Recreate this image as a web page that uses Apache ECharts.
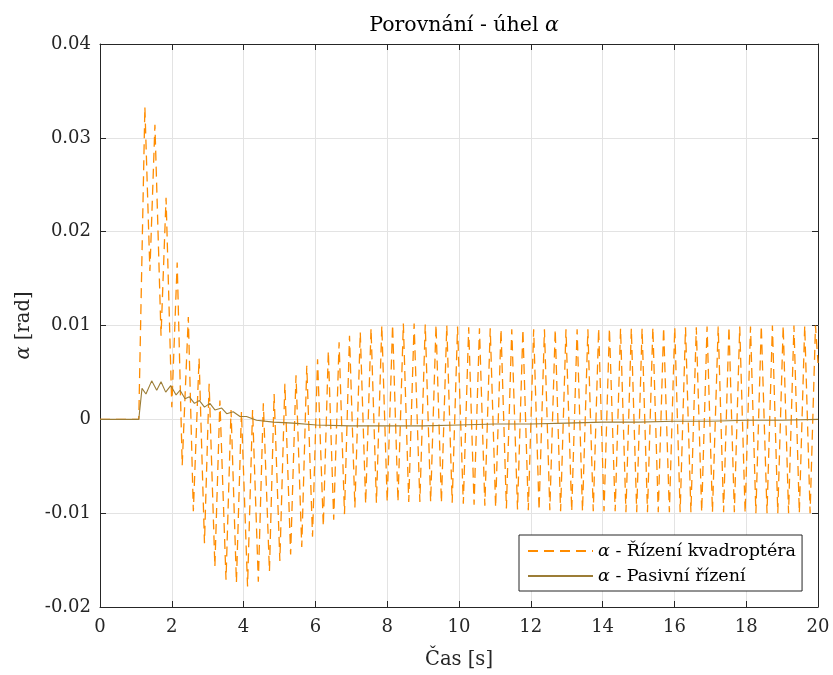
<!DOCTYPE html>
<html>
<head>
<meta charset="utf-8">
<script src="https://cdn.jsdelivr.net/npm/echarts@6/dist/echarts.min.js"></script>
<style>
html,body{margin:0;padding:0;background:#fff;}
#c{width:833px;height:675px;}
</style>
</head>
<body>
<div id="c"></div>
<script>
// ---- data ----
const seriesNames = ['Řízení kvadroptéra', 'Pasivní řízení'];

const quadT = [0, 1.08, 1.25, 1.39, 1.53, 1.70, 1.84, 2.00, 2.15, 2.29, 2.46, 2.60, 2.76, 2.91, 3.04, 3.20, 3.34, 3.51, 3.65, 3.80,
  3.94, 4.11, 4.25, 4.41, 4.55, 4.72, 4.85, 5.01, 5.15, 5.31, 5.46, 5.62, 5.76, 5.92, 6.06, 6.22, 6.36, 6.51, 6.66, 6.81,
  6.95, 7.10, 7.25, 7.40, 7.55, 7.70, 7.85, 8.00, 8.15, 8.30, 8.45, 8.60, 8.75, 8.91, 9.06, 9.21, 9.36, 9.51, 9.66, 9.81,
  9.96, 10.12, 10.27, 10.42, 10.57, 10.72, 10.87, 11.02, 11.17, 11.32, 11.47, 11.63, 11.78, 11.93, 12.08, 12.23, 12.38, 12.53, 12.68, 12.83,
  12.98, 13.14, 13.29, 13.44, 13.59, 13.74, 13.89, 14.04, 14.19, 14.35, 14.50, 14.65, 14.80, 14.95, 15.10, 15.25, 15.40, 15.55, 15.70, 15.86,
  16.01, 16.16, 16.31, 16.46, 16.61, 16.76, 16.91, 17.06, 17.22, 17.37, 17.52, 17.67, 17.82, 17.97, 18.12, 18.27, 18.42, 18.58, 18.73, 18.88,
  19.03, 19.18, 19.33, 19.48, 19.63, 19.78, 19.93, 20.00];
const quadV = [0, 0, 0.0333, 0.0158, 0.0314, 0.0089, 0.0236, 0.0013, 0.0167, -0.0049, 0.0109, -0.0098, 0.0065, -0.0132, 0.0038, -0.0157, 0.0020, -0.0171, 0.0010, -0.0174,
  0.0008, -0.0178, 0.0010, -0.0173, 0.0017, -0.0162, 0.0027, -0.0151, 0.0038, -0.0144, 0.0047, -0.0136, 0.0057, -0.0125, 0.0064, -0.0114, 0.0073, -0.0107, 0.0082, -0.0101,
  0.0089, -0.0094, 0.0093, -0.0090, 0.0097, -0.0089, 0.0100, -0.0088, 0.0101, -0.0088, 0.0102, -0.0088, 0.0102, -0.0088, 0.0101, -0.0088, 0.0101, -0.0089, 0.0100, -0.0089,
  0.0099, -0.0090, 0.0098, -0.0091, 0.0097, -0.0092, 0.0097, -0.0094, 0.0096, -0.0095, 0.0096, -0.0096, 0.0096, -0.0097, 0.0096, -0.0097, 0.0096, -0.0097, 0.0096, -0.0098,
  0.0096, -0.0098, 0.0096, -0.0098, 0.0096, -0.0098, 0.0097, -0.0098, 0.0097, -0.0098, 0.0097, -0.0099, 0.0097, -0.0099, 0.0097, -0.0099, 0.0098, -0.0099, 0.0098, -0.0099,
  0.0098, -0.0099, 0.0098, -0.0099, 0.0098, -0.0099, 0.0099, -0.0099, 0.0099, -0.0099, 0.0099, -0.0099, 0.0099, -0.0100, 0.0099, -0.0100, 0.0100, -0.0100, 0.0100, -0.0100,
  0.0100, -0.0100, 0.0100, -0.0100, 0.0100, -0.0100, 0.0100, 0.0060];

const passT = [0, 1.08, 1.17, 1.28, 1.44, 1.58, 1.70, 1.83, 1.97, 2.12, 2.23, 2.37, 2.49, 2.63, 2.77, 2.91, 3.06, 3.20, 3.39, 3.53,
  3.71, 3.90, 4.08, 4.36, 4.83, 5.38, 6.03, 6.96, 8.00, 9.00, 10.00, 11.00, 12.00, 13.00, 14.00, 15.00, 16.00, 17.00, 18.00, 19.00, 20.00];
const passV = [0, 0, 0.0033, 0.0027, 0.0041, 0.0031, 0.0040, 0.0029, 0.0036, 0.0026, 0.0031, 0.0022, 0.0024, 0.0017, 0.0020, 0.0013, 0.0017, 0.0010, 0.0012, 0.0006,
  0.0008, 0.0003, 0.0003, -0.0001, -0.0003, -0.0004, -0.0006, -0.0007, -0.0007, -0.0007, -0.0006, -0.0005, -0.0005, -0.0004, -0.0003, -0.0003, -0.0002, -0.0002, -0.0001, -0.0001, 0];

const xTicks = [0, 2, 4, 6, 8, 10, 12, 14, 16, 18, 20];
const yTicks = [-0.02, -0.01, 0, 0.01, 0.02, 0.03, 0.04];
const yTickLabels = ['-0.02', '-0.01', '0', '0.01', '0.02', '0.03', '0.04'];

// ---- chart ----
const FONT = 'DejaVu Serif';
const FS = 18;
const quadData = quadT.map((t, i) => [t, quadV[i]]);
const passData = passT.map((t, i) => [t, passV[i]]);

function yLabel(v) {
  let best = 0, bd = Infinity;
  yTicks.forEach((t, i) => { const d = Math.abs(t - v); if (d < bd) { bd = d; best = i; } });
  return yTickLabels[best];
}

const chart = echarts.init(document.getElementById('c'), null, { renderer: 'canvas' });
const axisCommon = {
  axisLine: { show: true, onZero: false, lineStyle: { color: '#262626', width: 1 } },
  axisTick: { show: true, inside: true, length: 6, lineStyle: { color: '#262626', width: 1 } },
};
chart.setOption({
  animation: false,
  backgroundColor: '#ffffff',
  title: {
    text: 'Porovnání - úhel {i|α}',
    left: 459, top: 10, textAlign: 'center',
    textStyle: {
      fontFamily: FONT, fontSize: 20.5, fontWeight: 'normal', color: '#000',
      rich: { i: { fontFamily: FONT, fontSize: 20.5, fontStyle: 'italic', color: '#000' } }
    }
  },
  grid: { left: 100, right: 15, top: 44, bottom: 66, containLabel: false },
  legend: {
    orient: 'vertical',
    left: 519, top: 535,
    padding: [7, 6, 6, 8],
    itemWidth: 65, itemHeight: 14, itemGap: 7,
    backgroundColor: '#ffffff',
    borderColor: '#262626', borderWidth: 1, borderRadius: 0,
    data: seriesNames,
    itemStyle: { opacity: 0 },
    formatter: n => '{i|α} - ' + n,
    textStyle: {
      fontFamily: FONT, fontSize: 17.5, color: '#000',
      rich: { i: { fontFamily: FONT, fontSize: 17.5, fontStyle: 'italic', color: '#000' } }
    }
  },
  xAxis: [{
    type: 'value', min: 0, max: 20, interval: 2, position: 'bottom',
    name: 'Čas [s]', nameLocation: 'middle', nameGap: 43,
    nameTextStyle: { fontFamily: FONT, fontSize: 19.5, color: '#262626' },
    axisLabel: { fontFamily: FONT, fontSize: FS, color: '#262626', margin: 11 },
    splitLine: { show: true, lineStyle: { color: '#e3e3e3', width: 1 } },
    ...axisCommon
  }, {
    type: 'value', min: 0, max: 20, interval: 2, position: 'top',
    axisLabel: { show: false }, splitLine: { show: false },
    ...axisCommon
  }],
  yAxis: [{
    type: 'value', min: -0.02, max: 0.04, interval: 0.01, position: 'left',
    name: '{i|α} [rad]', nameLocation: 'middle', nameGap: 62, nameRotate: 90,
    nameTextStyle: {
      fontFamily: FONT, fontSize: 19.5, color: '#262626',
      rich: { i: { fontFamily: FONT, fontSize: 19.5, fontStyle: 'italic', color: '#262626' } }
    },
    axisLabel: { fontFamily: FONT, fontSize: FS, color: '#262626', margin: 9, formatter: yLabel },
    splitLine: { show: true, lineStyle: { color: '#e3e3e3', width: 1 } },
    ...axisCommon
  }, {
    type: 'value', min: -0.02, max: 0.04, interval: 0.01, position: 'right',
    axisLabel: { show: false }, splitLine: { show: false },
    ...axisCommon
  }],
  series: [{
    name: seriesNames[0], type: 'line', data: quadData,
    showSymbol: false, symbol: 'none',
    lineStyle: { color: '#FF8C00', width: 1.3, type: [10, 6] },
    itemStyle: { color: '#FF8C00' },
    z: 3
  }, {
    name: seriesNames[1], type: 'line', data: passData,
    showSymbol: false, symbol: 'none',
    lineStyle: { color: '#9C7D36', width: 1.1, type: 'solid' },
    itemStyle: { color: '#9C7D36' },
    z: 4
  }]
});
</script>
</body>
</html>
